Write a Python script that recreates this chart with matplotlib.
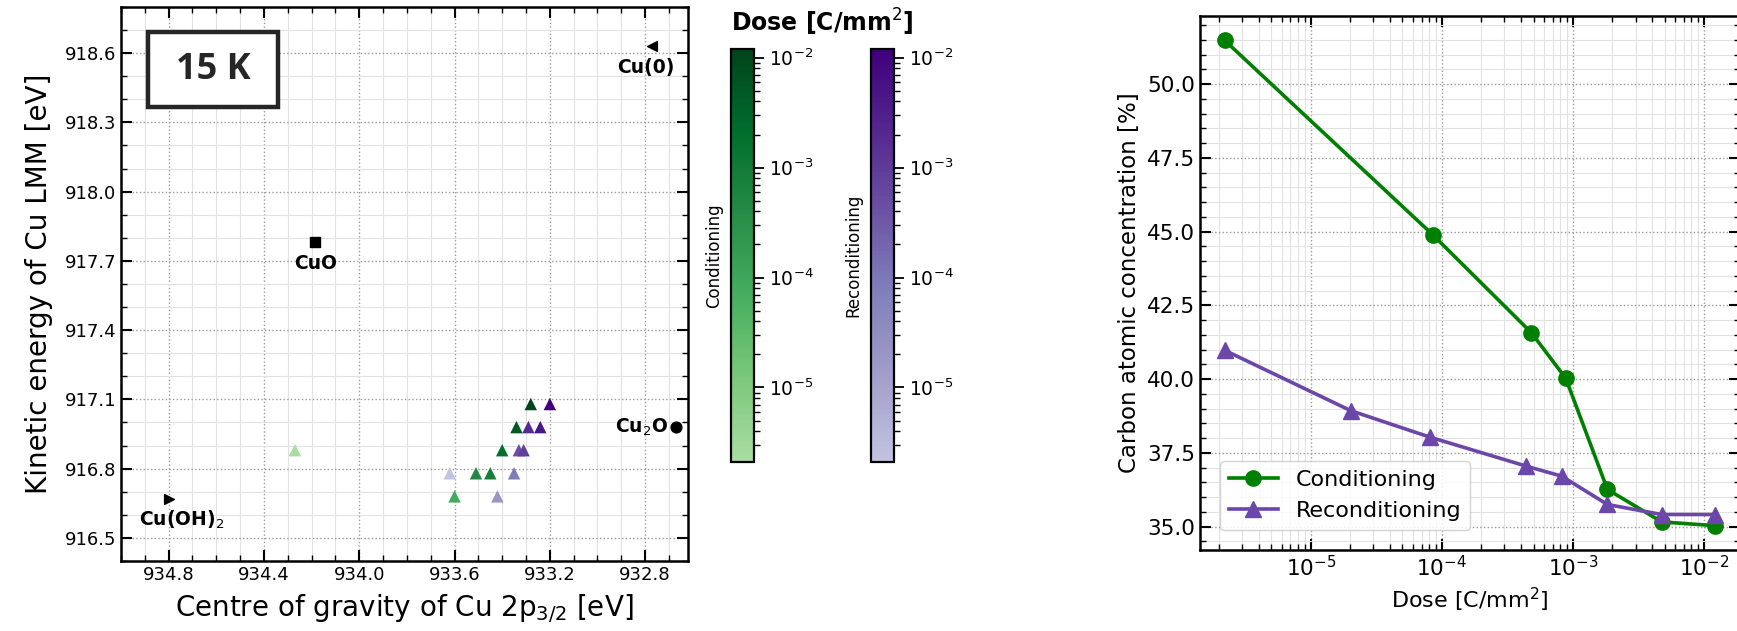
import numpy as np
import matplotlib
matplotlib.use("Agg")
import matplotlib.pyplot as plt
from matplotlib.colors import LogNorm, LinearSegmentedColormap
from matplotlib.patches import Rectangle
from matplotlib.ticker import MultipleLocator, LogLocator, NullFormatter, FormatStrFormatter

# Carbon atomic concentration versus accumulated electron dose
cond_dose = [2.2e-6, 8.5e-5, 4.8e-4, 8.8e-4, 1.83e-3, 4.75e-3, 1.22e-2]
cond_carbon = [51.49, 44.90, 41.58, 40.03, 36.26, 35.16, 35.03]
recond_dose = [2.2e-6, 2.02e-5, 8.15e-5, 4.4e-4, 8.2e-4, 1.83e-3, 4.75e-3, 1.22e-2]
recond_carbon = [40.98, 38.93, 38.03, 37.05, 36.71, 35.75, 35.41, 35.41]

# Wagner-plot coordinates of each dose step (2p3/2 centre of gravity, LMM kinetic energy)
cond_be = [934.27, 933.60, 933.51, 933.45, 933.40, 933.34, 933.28]
cond_ke = [916.88, 916.68, 916.78, 916.78, 916.88, 916.98, 917.08]
recond_be = [933.62, 933.42, 933.35, 933.33, 933.31, 933.29, 933.24, 933.20]
recond_ke = [916.78, 916.68, 916.78, 916.88, 916.88, 916.98, 916.98, 917.08]

# Reference compounds
ref_names = ["Cu(0)", "CuO", "Cu$_2$O", "Cu(OH)$_2$"]
ref_be = [932.77, 934.185, 932.67, 934.80]
ref_ke = [918.63, 917.78, 916.98, 916.67]
ref_markers = ["<", "s", "o", ">"]
ref_label_offsets = [(-5, -15), (0, -15), (-6, 0), (9, -15)]
ref_label_align = [("center", "center"), ("center", "center"),
                   ("right", "center"), ("center", "center")]

dose_min, dose_max = 2.1e-6, 1.2e-2

greens = LinearSegmentedColormap.from_list(
    "greens_t", plt.cm.Greens(np.linspace(0.35, 1.0, 256)))
purples = LinearSegmentedColormap.from_list(
    "purples_t", plt.cm.Purples(np.linspace(0.35, 1.0, 256)))
norm = LogNorm(vmin=dose_min, vmax=dose_max)

W, H = 1737, 631
fig = plt.figure(figsize=(W / 100, H / 100), dpi=100)


def px_axes(x0, y0, x1, y1):
    return fig.add_axes([x0 / W, 1 - y1 / H, (x1 - x0) / W, (y1 - y0) / H])


def style_axes(ax, labelsize):
    ax.tick_params(which="both", direction="in", top=True, right=True,
                   labelsize=labelsize)
    ax.tick_params(which="major", length=8, width=1.5)
    ax.tick_params(which="minor", length=4.5, width=1.0)
    for s in ax.spines.values():
        s.set_linewidth(1.8)
    ax.grid(which="major", linestyle=":", color="#9a9a9a", linewidth=1.0)
    ax.grid(which="minor", linestyle="-", color="#e2e2e2", linewidth=0.8)
    ax.set_axisbelow(True)


# ---------- Wagner plot ----------
ax1 = px_axes(121, 7, 688, 561)
style_axes(ax1, 13)
ax1.set_xlim(935.0, 932.62)
ax1.set_ylim(916.4, 918.8)
ax1.xaxis.set_major_locator(MultipleLocator(0.4))
ax1.xaxis.set_minor_locator(MultipleLocator(0.1))
ax1.yaxis.set_major_locator(MultipleLocator(0.3))
ax1.yaxis.set_minor_locator(MultipleLocator(0.1))
ax1.set_xlabel("Centre of gravity of Cu 2p$_{3/2}$ [eV]", fontsize=20, labelpad=6)
ax1.set_ylabel("Kinetic energy of Cu LMM [eV]", fontsize=20, labelpad=8)

ax1.scatter(cond_be, cond_ke, c=cond_dose, cmap=greens, norm=norm,
            marker="^", s=80, zorder=3, linewidths=0)
ax1.scatter(recond_be, recond_ke, c=recond_dose, cmap=purples, norm=norm,
            marker="^", s=80, zorder=3, linewidths=0)

for name, x, y, m, off, (ha, va) in zip(ref_names, ref_be, ref_ke, ref_markers,
                                        ref_label_offsets, ref_label_align):
    ax1.scatter([x], [y], marker=m, s=60 if m in "so" else 50, color="black",
                zorder=4)
    ax1.annotate(name, (x, y), xytext=off, textcoords="offset points",
                 ha=ha, va=va, fontsize=13.5, fontweight="bold")

ax1.add_patch(Rectangle((0.0476, 0.8195), 0.2295, 0.1355, transform=ax1.transAxes,
                        facecolor="white", edgecolor="#262626", linewidth=3.2,
                        zorder=5))
ax1.text(0.162, 0.887, "15 K", transform=ax1.transAxes, ha="center", va="center",
         fontsize=26, fontweight="bold", family="Open Sans", color="#262626",
         zorder=6)

# ---------- dose colour bars ----------
fig.text(822 / W, 1 - 22 / H, "Dose [C/mm$^2$]", ha="center", va="center",
         fontsize=17, fontweight="bold")

for cmap, label, x0 in ((greens, "Conditioning", 731), (purples, "Reconditioning", 871)):
    cax = px_axes(x0, 49, x0 + 23, 462)
    sm = plt.cm.ScalarMappable(norm=norm, cmap=cmap)
    cb = fig.colorbar(sm, cax=cax)
    cb.outline.set_linewidth(1.6)
    cb.ax.tick_params(which="both", direction="out", labelsize=13.5)
    cb.ax.tick_params(which="major", length=7, width=1.3)
    cb.ax.tick_params(which="minor", length=4, width=1.0)
    cb.ax.yaxis.set_label_position("left")
    cb.set_label(label, fontsize=12, labelpad=6)

# ---------- carbon concentration ----------
ax2 = px_axes(1200, 16, 1740, 550)
style_axes(ax2, 15.5)
ax2.set_xscale("log")
ax2.xaxis.set_major_locator(LogLocator(base=10, numticks=12))
ax2.xaxis.set_minor_locator(LogLocator(base=10, subs=np.arange(2, 10), numticks=12))
ax2.xaxis.set_minor_formatter(NullFormatter())
ax2.yaxis.set_major_locator(MultipleLocator(2.5))
ax2.yaxis.set_minor_locator(MultipleLocator(0.5))
ax2.yaxis.set_major_formatter(FormatStrFormatter("%.1f"))

ax2.plot(cond_dose, cond_carbon, "-o", color="#008000", lw=2.6, ms=11,
         label="Conditioning", zorder=3)
ax2.plot(recond_dose, recond_carbon, "-^", color="#6a47a8", lw=2.6, ms=12,
         label="Reconditioning", zorder=3)
ax2.set_xlabel("Dose [C/mm$^2$]", fontsize=16)
ax2.set_ylabel("Carbon atomic concentration [%]", fontsize=16.5)
ax2.legend(loc="lower left", fontsize=16, frameon=True, framealpha=0.85,
           handlelength=2.2, borderaxespad=0.9)

fig.savefig("out.png", dpi=100)
